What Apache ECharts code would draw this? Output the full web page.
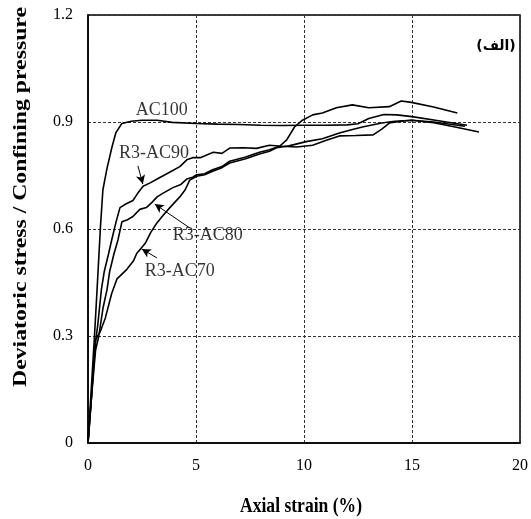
<!DOCTYPE html>
<html>
<head>
<meta charset="utf-8">
<script src="https://cdn.jsdelivr.net/npm/echarts@6/dist/echarts.min.js"></script>
<style>html,body{margin:0;padding:0;background:#fff}#c{width:531px;height:519px}</style>
</head>
<body>
<div id="c"></div>
<script>
// ---- data ----
const xTicks = [0, 5, 10, 15, 20];
const yTickLabels = ['0', '0.3', '0.6', '0.9', '1.2'];

const ac100X = [0, 0.15, 0.3, 0.42, 0.58, 0.69, 0.88, 1.11, 1.29, 1.57, 2.0, 2.5, 3.2, 3.9, 5.0, 6.0, 7.0, 8.0, 9.0, 10.0, 11.0, 12.0, 12.5, 13.0, 13.7, 14.3, 15.0, 16.3, 17.55];
const ac100Y = [0, 0.15, 0.3, 0.43, 0.61, 0.71, 0.77, 0.83, 0.87, 0.896, 0.902, 0.905, 0.905, 0.899, 0.896, 0.894, 0.893, 0.891, 0.89, 0.891, 0.891, 0.892, 0.895, 0.91, 0.921, 0.92, 0.915, 0.903, 0.891];

const ac90X = [0, 0.15, 0.3, 0.45, 0.62, 0.75, 0.95, 1.1, 1.3, 1.48, 1.75, 2.08, 2.3, 2.55, 2.9, 3.2, 3.5, 3.8, 4.25, 4.6, 4.85, 5.2, 5.8, 6.2, 6.56, 7.2, 7.8, 8.4, 9.0, 9.65, 10.4, 11.0, 11.64, 12.4, 13.2, 13.6, 13.95, 14.5, 15.0, 16.0, 17.45];
const ac90Y = [0, 0.12, 0.26, 0.33, 0.43, 0.48, 0.53, 0.57, 0.62, 0.66, 0.67, 0.68, 0.7, 0.72, 0.73, 0.74, 0.75, 0.76, 0.775, 0.795, 0.8, 0.8, 0.815, 0.812, 0.827, 0.828, 0.826, 0.835, 0.832, 0.83, 0.835, 0.848, 0.861, 0.862, 0.864, 0.88, 0.897, 0.902, 0.905, 0.9, 0.888];

const ac80X = [0, 0.15, 0.35, 0.5, 0.7, 0.88, 1.0, 1.2, 1.39, 1.57, 1.8, 2.08, 2.4, 2.7, 2.95, 3.2, 3.46, 3.93, 4.3, 4.57, 4.85, 5.03, 5.4, 5.77, 6.2, 6.56, 7.3, 7.94, 8.4, 8.87, 9.2, 9.56, 9.93, 10.4, 10.85, 11.5, 12.24, 13.0, 13.95, 14.5, 14.97, 16.0, 17.1];
const ac80Y = [0, 0.12, 0.26, 0.3, 0.38, 0.43, 0.48, 0.53, 0.57, 0.62, 0.625, 0.635, 0.655, 0.66, 0.674, 0.69, 0.7, 0.716, 0.725, 0.74, 0.745, 0.752, 0.755, 0.766, 0.775, 0.79, 0.802, 0.815, 0.822, 0.832, 0.85, 0.886, 0.905, 0.92, 0.925, 0.94, 0.948, 0.94, 0.943, 0.959, 0.955, 0.942, 0.925];

const ac70X = [0, 0.15, 0.35, 0.55, 0.8, 1.1, 1.34, 1.8, 2.1, 2.26, 2.45, 2.65, 2.9, 3.19, 3.5, 3.79, 4.25, 4.5, 4.71, 5.03, 5.4, 5.77, 6.2, 6.56, 7.3, 7.94, 8.4, 8.73, 9.3, 10.1, 10.85, 11.64, 12.2, 12.7, 13.6, 14.2, 15.0, 16.0, 17.0, 18.1];
const ac70Y = [0, 0.12, 0.29, 0.31, 0.35, 0.42, 0.46, 0.487, 0.51, 0.532, 0.545, 0.56, 0.59, 0.617, 0.64, 0.66, 0.69, 0.71, 0.737, 0.748, 0.752, 0.762, 0.772, 0.785, 0.797, 0.81, 0.818, 0.828, 0.833, 0.845, 0.853, 0.869, 0.878, 0.886, 0.897, 0.902, 0.905, 0.898, 0.886, 0.872];

// annotation labels
const labelNames = ['AC100', 'R3-AC90', 'R3-AC80', 'R3-AC70'];
const labelX = [3.42, 3.05, 5.54, 4.25];
const labelY = [0.934, 0.813, 0.583, 0.482];
// arrows: from (x1, y1) to (x2, y2)
const arrowX1 = [2.31, 4.71, 3.19];
const arrowY1 = [0.777, 0.603, 0.519];
const arrowX2 = [2.54, 3.09, 2.49];
const arrowY2 = [0.726, 0.67, 0.544];

const xTitle = 'Axial strain (%)';
const yTitle = 'Deviatoric stress / Confining pressure';
const panelTag = '(الف)';

// ---- chart ----
const zip = (xs, ys) => xs.map((x, i) => [x, ys[i]]);
const serif = '"Liberation Serif", "Times New Roman", serif';

function measure(text, font) {
  const c = document.createElement('canvas').getContext('2d');
  c.font = font;
  return c.measureText(text).width;
}
const yTitleFont = 'bold 19px "Liberation Serif"';
const yTitleScale = 380 / measure(yTitle, yTitleFont);
const xTitleFont = 'bold 17px "Liberation Serif"';
const xTitleScale = 122 / measure(xTitle, xTitleFont);

const lineStyle = { color: '#000', width: 1.6 };
function lineSeries(name, xs, ys) {
  return { name, type: 'line', data: zip(xs, ys), showSymbol: false, symbol: 'none',
    lineStyle, itemStyle: { color: '#000' }, animation: false, z: 3 };
}

const arrowData = arrowX1.map((x, i) => [
  { coord: [x, arrowY1[i]] }, { coord: [arrowX2[i], arrowY2[i]] }
]);

const chart = echarts.init(document.getElementById('c'), null, { renderer: 'canvas' });
chart.setOption({
  animation: false,
  backgroundColor: '#fff',
  grid: { left: 88, top: 15, right: 10, bottom: 76, show: true, borderColor: '#000', borderWidth: 1.5, backgroundColor: 'transparent' },
  xAxis: {
    type: 'value', min: xTicks[0], max: xTicks[xTicks.length - 1], interval: 5,
    axisLine: { show: true, lineStyle: { color: '#000', width: 1.5 } },
    axisTick: { show: false },
    axisLabel: { color: '#000', fontFamily: serif, fontSize: 16, margin: 15 },
    splitLine: { show: true, lineStyle: { color: '#333', type: [3, 2], width: 1 } }
  },
  yAxis: {
    type: 'value', min: 0, max: 1.2, interval: 0.3,
    axisLine: { show: true, lineStyle: { color: '#000', width: 1.5 } },
    axisTick: { show: false },
    axisLabel: { color: '#000', fontFamily: serif, fontSize: 16, margin: 15,
      formatter: v => yTickLabels[Math.round(v / 0.3)] },
    splitLine: { show: true, lineStyle: { color: '#333', type: [3, 2], width: 1 } }
  },
  series: [
    lineSeries('AC100', ac100X, ac100Y),
    lineSeries('R3-AC90', ac90X, ac90Y),
    lineSeries('R3-AC80', ac80X, ac80Y),
    lineSeries('R3-AC70', ac70X, ac70Y),
    {
      type: 'scatter', symbolSize: 0, animation: false, z: 4,
      data: labelNames.map((n, i) => ({ value: [labelX[i], labelY[i]], name: n })),
      label: { show: true, position: 'inside', formatter: p => p.name, color: '#000', fontFamily: serif, fontSize: 18 },
      markLine: {
        silent: true, symbol: ['none', 'arrow'], symbolSize: [7, 9], animation: false,
        label: { show: false },
        lineStyle: { color: '#000', width: 1, type: 'solid' },
        data: arrowData
      }
    }
  ],
  graphic: [
    { type: 'text', x: 21, y: 197, rotation: Math.PI / 2, scaleX: yTitleScale, scaleY: 1,
      style: { text: yTitle, font: yTitleFont, fill: '#000', textAlign: 'center', textVerticalAlign: 'middle' } },
    { type: 'text', x: 301, y: 507, scaleX: xTitleScale, scaleY: 1.2,
      style: { text: xTitle, font: xTitleFont, fill: '#000', textAlign: 'center', textVerticalAlign: 'middle' } },
    { type: 'text', x: 496, y: 46,
      style: { text: panelTag, font: 'bold 14px "DejaVu Sans"', fill: '#000', textAlign: 'center', textVerticalAlign: 'middle' } }
  ]
});
</script>
</body>
</html>
